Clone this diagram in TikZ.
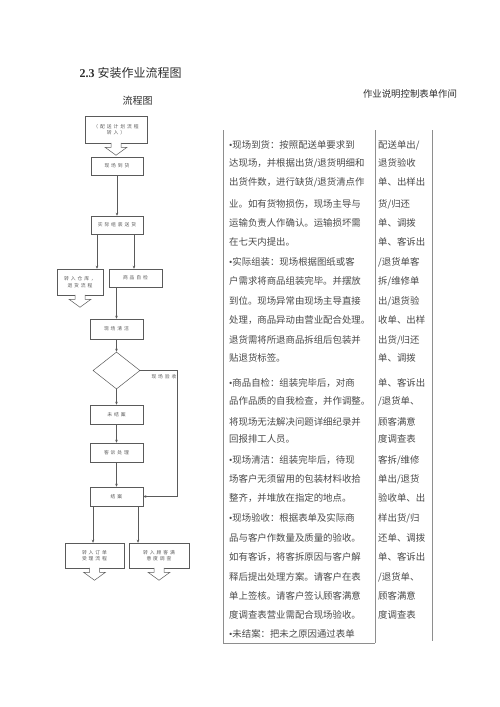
\documentclass[tikz,border=0pt]{standalone}
\usepackage{fontspec}
\setmainfont{Liberation Serif}
\newfontfamily\cjk{Noto Sans CJK SC}
\newfontfamily\cjksp[LetterSpace=40]{Noto Sans CJK SC}
\newfontfamily\latinfont{Liberation Serif}
\newcommand{\tbul}{{\latinfont •}}
\usetikzlibrary{arrows.meta, positioning, calc, shapes.geometric}
\definecolor{ink}{HTML}{2E2E2E}
\definecolor{txtgray}{HTML}{4A4A4A}
\definecolor{linegray}{HTML}{5A5A5A}
\definecolor{rulegray}{HTML}{8E8E8E}

\begin{document}
\begin{tikzpicture}[x=1pt, y=-1pt,
  >={Stealth[length=3pt, width=2.6pt]},
  stepbox/.style={draw=linegray, line width=0.5pt, fill=white, inner sep=0pt,
    font=\cjksp\fontsize{4.8}{6.6}\selectfont, text=linegray, align=center},
  flow/.style={draw=linegray, line width=0.5pt, ->},
  cell/.style={anchor=west, inner sep=0pt,
    font=\cjk\fontsize{9.4}{11}\selectfont, text=txtgray},
]

% Background
\fill[white] (0,0) rectangle (500,707);
\useasboundingbox (0,0) rectangle (500,707);

% Headings
\node[anchor=west, font=\fontsize{12}{14}\selectfont, text=ink] (title) at (76,73)
  {\textbf{2.3} {\cjk 安装作业流程图}};
\node[font=\cjk\fontsize{10}{12}\selectfont, text=ink] (flowhead) at (137.5,101) {流程图};
\node[font=\cjk\fontsize{9.4}{11}\selectfont, text=ink] (formhead) at (410,94)
  {作业说明控制表单作间};

% =============================================
% Flow chart
% =============================================

\node[stepbox, minimum width=62pt, minimum height=27pt] (start) at (116,129.5)
  {（配送计划流程\\转入）};
\node[stepbox, minimum width=52pt, minimum height=18pt] (arrive) at (117,166) {现场到货};
\node[stepbox, minimum width=52pt, minimum height=18pt] (assemble) at (117,225) {实际组装送货};
\node[stepbox, minimum width=46pt, minimum height=26pt] (toware) at (80,282)
  {转入仓库，\\退货流程};
\node[stepbox, minimum width=53pt, minimum height=18pt] (check) at (135.5,278) {商品自检};
\node[stepbox, minimum width=53pt, minimum height=20pt] (clean) at (116.5,329) {现场清洁};
\node[diamond, draw=linegray, line width=0.5pt, inner sep=0pt,
  minimum width=47pt, minimum height=37pt] (decide) at (116.5,370.5) {};
\node[font=\cjksp\fontsize{4.8}{6.6}\selectfont, text=linegray] (acceptlbl) at (164,377)
  {现场验收};
\node[stepbox, minimum width=53pt, minimum height=19pt] (open) at (116.5,414.5) {未结案};
\node[stepbox, minimum width=53pt, minimum height=19pt] (complain) at (116.5,452.5) {客诉处理};
\node[stepbox, minimum width=53pt, minimum height=19pt] (close) at (116.5,496.5) {结案};
\node[stepbox, minimum width=59pt, minimum height=25pt] (toorder) at (94.5,555.5)
  {转入订单\\受理流程};
\node[stepbox, minimum width=60pt, minimum height=25pt] (tosurvey) at (159,555.5)
  {转入顾客满\\意度调查};

% Block arrows below the hand-over boxes
\foreach \n in {start, toware, toorder, tosurvey}
  \filldraw[draw=linegray, line width=0.5pt, fill=white]
    ([xshift=-5pt, yshift=0.4pt]\n.south) -- ++(0,4.4) -- ++(-6,0)
    -- ([yshift=-12pt]\n.south) -- ([xshift=11pt, yshift=-4pt]\n.south)
    -- ++(-6,0) -- ([xshift=5pt, yshift=0.4pt]\n.south);

% Connectors
\draw[flow] (arrive) -- (assemble);
\draw[flow] ([xshift=-20pt]assemble.south) -- ([xshift=-20pt]assemble.south |- toware.north);
\draw[flow] ([xshift=17pt]assemble.south) -- ([xshift=17pt]assemble.south |- check.north);
\draw[flow] (check.south -| clean) -- (clean);
\draw[flow] (clean) -- (decide);
\draw[flow] (decide) -- (open);
\draw[flow] (open) -- (complain);
\draw[flow] (complain) -- (close);
\draw[flow] (decide.east) -- ++(37,0) |- (close.east);
\draw[flow] ([xshift=-23.5pt]close.south) -- ([xshift=-23.5pt]close.south |- toorder.north);
\draw[flow] ([xshift=21.5pt]close.south) -- ([xshift=21.5pt]close.south |- tosurvey.north);

% =============================================
% Control table
% =============================================

\draw[rulegray, line width=0.8pt] (223,130) -- (223,643) -- (375,643);
\draw[rulegray, line width=0.8pt] (375,130) -- (375,643);
\draw[rulegray, line width=0.8pt] (432,130) -- (432,641);

% Instructions column
\foreach \y/\t [count=\i] in {
  145/{\tbul 现场到货：按照配送单要求到},
  163/{达现场，并根据出货/退货明细和},
  182/{出货件数，进行缺货/退货清点作},
  204/{业。如有货物损伤，现场主导与},
  223/{运输负责人作确认。运输损坏需},
  242/{在七天内提出。},
  262/{\tbul 实际组装：现场根据图纸或客},
  281/{户需求将商品组装完毕。并摆放},
  301/{到位。现场异常由现场主导直接},
  320/{处理，商品异动由营业配合处理。},
  340/{退货需将所退商品拆组后包装并},
  358/{贴退货标签。},
  383/{\tbul 商品自检：组装完毕后，对商},
  401/{品作品质的自我检查，并作调整。},
  422/{将现场无法解决问题详细纪录并},
  439/{回报排工人员。},
  460/{\tbul 现场清洁：组装完毕后，待现},
  479/{场客户无须留用的包装材料收拾},
  498/{整齐，并堆放在指定的地点。},
  518/{\tbul 现场验收：根据表单及实际商},
  538/{品与客户作数量及质量的验收。},
  557/{如有客诉，将客拆原因与客户解},
  577/{释后提出处理方案。请客户在表},
  596/{单上签核。请客户签认顾客满意},
  615/{度调查表营业需配合现场验收。},
  634/{\tbul 未结案：把未之原因通过表单}}
  \node[cell] (desc\i) at (229,\y) {\t};

% Forms column
\foreach \y/\t [count=\i] in {
  145/{配送单出/},
  163/{退货验收},
  182/{单、出样出},
  204/{货/归还},
  223/{单、调拨},
  242/{单、客诉出},
  262/{/退货单客},
  281/{拆/维修单},
  301/{出/退货验},
  320/{收单、出样},
  340/{出货/归还},
  358/{单、调拨},
  383/{单、客诉出},
  401/{/退货单、},
  422/{顾客满意},
  439/{度调查表},
  460/{客拆/维修},
  479/{单出/退货},
  498/{验收单、出},
  518/{样出货/归},
  538/{还单、调拨},
  557/{单、客诉出},
  577/{/退货单、},
  596/{顾客满意},
  615/{度调查表}}
  \node[cell] (form\i) at (378,\y) {\t};

\end{tikzpicture}
\end{document}
